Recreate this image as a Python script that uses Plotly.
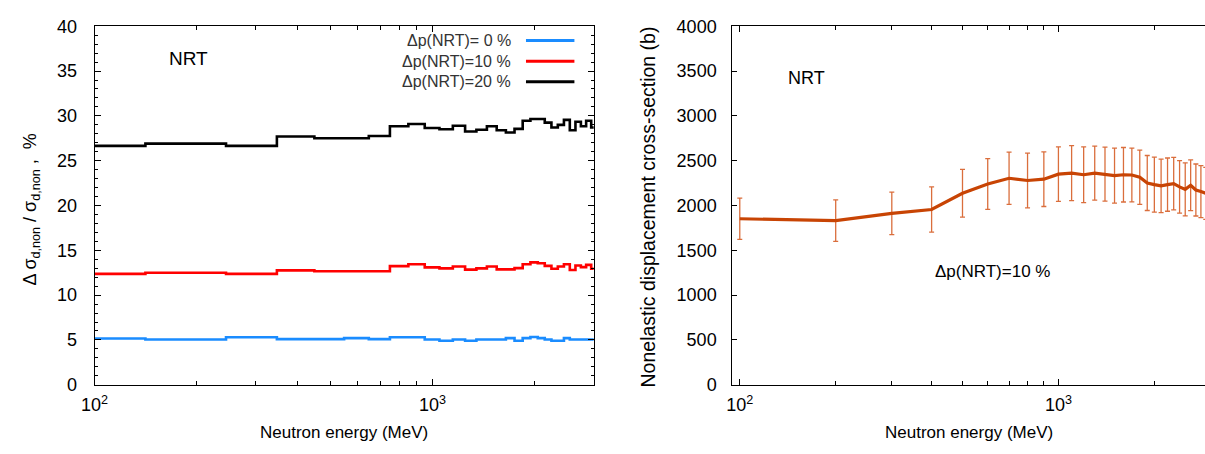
import plotly.graph_objects as go

W, H = 1205, 454

# ---------------- data ----------------
energy = [100, 200, 300, 400, 500, 600, 700, 800, 900, 1000,
          1100, 1200, 1300, 1400, 1500, 1600, 1700, 1800, 1900, 2000,
          2100, 2200, 2300, 2400, 2500, 2600, 2700, 2800, 2900, 3000]

ratio_dp0 = [5.16, 5.05, 5.30, 5.09, 5.09, 5.20, 5.09, 5.30, 5.30, 5.05,
             4.91, 5.05, 4.91, 5.05, 5.05, 5.05, 5.20, 4.91, 5.20, 5.33,
             5.20, 5.05, 4.91, 4.91, 5.20, 5.05, 5.05, 5.05, 5.05, 5.05]

ratio_dp10 = [12.37, 12.50, 12.37, 12.76, 12.66, 12.66, 12.66, 13.23, 13.44, 13.09,
              12.98, 13.19, 12.84, 12.98, 13.19, 12.87, 12.87, 13.01, 13.44, 13.65,
              13.55, 13.26, 12.94, 13.19, 13.44, 12.80, 13.30, 13.12, 13.37, 12.94]

ratio_dp20 = [26.65, 26.90, 26.65, 27.70, 27.50, 27.50, 27.75, 28.85, 29.10, 28.65,
              28.50, 28.90, 28.25, 28.45, 28.85, 28.40, 28.15, 28.55, 29.45, 29.65,
              29.65, 29.25, 28.70, 29.00, 29.55, 28.40, 29.35, 28.85, 29.45, 28.70]

xs_value = [1852, 1831, 1913, 1955, 2137, 2240, 2304, 2279, 2294, 2350,
            2362, 2343, 2361, 2350, 2333, 2343, 2340, 2315, 2251, 2233,
            2219, 2233, 2244, 2208, 2180, 2226, 2173, 2155, 2135, 2120]

xs_err = [230, 232, 237, 252, 267, 284, 292, 305, 305, 305,
          307, 310, 302, 302, 307, 304, 300, 302, 307, 306,
          298, 297, 293, 293, 295, 284, 290, 290, 290, 285]

legend_labels = ["\u0394p(NRT)= 0 %", "\u0394p(NRT)=10 %", "\u0394p(NRT)=20 %"]
series_colors = ["#1a8cff", "#ff0000", "#000000"]

x_major = [100, 1000]
x_major_text = ["10<sup>2</sup>", "10<sup>3</sup>"]
x_minor = [200, 300, 400, 500, 600, 700, 800, 900, 2000, 3000]
left_yticks = [0, 5, 10, 15, 20, 25, 30, 35, 40]
right_yticks = [0, 500, 1000, 1500, 2000, 2500, 3000, 3500, 4000]

FONT = "Arial, Liberation Sans, sans-serif"

# ---------------- figure ----------------
fig = go.Figure()

for vals, name, col in zip([ratio_dp0, ratio_dp10, ratio_dp20], legend_labels, series_colors):
    fig.add_trace(go.Scatter(
        x=energy, y=vals, mode="lines", name=name,
        line=dict(color=col, width=2.6, shape="hvh"),
        xaxis="x", yaxis="y", showlegend=False))

fig.add_trace(go.Scatter(
    x=energy, y=xs_value, mode="lines", name="\u0394p(NRT)=10 %",
    line=dict(color="rgb(200,68,4)", width=3.2),
    error_y=dict(type="data", array=xs_err, visible=True,
                 color="rgb(218,110,60)", thickness=1.3, width=2.5),
    xaxis="x2", yaxis="y2", showlegend=False))

def px2paper_x(px):
    return px / W

def px2paper_y(py):
    return 1 - py / H

yb, yt = px2paper_y(392), px2paper_y(17)

axis_common = dict(
    showline=True, linecolor="black", linewidth=1, showgrid=False, zeroline=False,
    ticks="inside", tickcolor="black",
    tickfont=dict(family=FONT, size=18, color="black"),
)

fig.update_layout(
    width=W, height=H,
    margin=dict(l=0, r=0, t=0, b=0),
    paper_bgcolor="white", plot_bgcolor="white",
    font=dict(family=FONT, color="black"),
    xaxis=dict(
        axis_common, type="log", domain=[px2paper_x(81.5), px2paper_x(587)],
        range=[2, 3.4786], anchor="y", mirror="allticks",
        tickvals=x_major, ticktext=x_major_text, ticklen=6,
        minor=dict(tickvals=x_minor, ticks="inside", ticklen=4, tickcolor="black"),
        ticklabelstandoff=4,
    ),
    yaxis=dict(
        axis_common, domain=[yb, yt], range=[0, 40], anchor="x", mirror="allticks",
        tickvals=left_yticks, ticklen=6,
        minor=dict(dtick=1, ticks="inside", ticklen=3, tickcolor="black"),
        ticklabelstandoff=13,
    ),
    xaxis2=dict(
        axis_common, type="log", domain=[px2paper_x(726.7), 1.0],
        range=[1.9764, 3.46], anchor="y2", mirror="allticks",
        tickvals=x_major, ticktext=x_major_text, ticklen=6,
        minor=dict(tickvals=x_minor, ticks="inside", ticklen=4, tickcolor="black"),
        ticklabelstandoff=4,
    ),
    yaxis2=dict(
        axis_common, domain=[yb, yt], range=[0, 4000], anchor="x2", mirror=False,
        tickvals=right_yticks, ticklen=5,
        ticklabelstandoff=11,
    ),
)

ann = []
# axis titles
ann.append(dict(text="Neutron energy (MeV)", x=px2paper_x(334), y=px2paper_y(442),
                font=dict(size=17)))
ann.append(dict(text="Neutron energy (MeV)", x=px2paper_x(966), y=px2paper_y(442),
                font=dict(size=17)))
ann.append(dict(text="\u0394 \u03c3<sub>d,non</sub> / \u03c3<sub>d,non</sub> ,  %",
                x=px2paper_x(18), y=px2paper_y(209), textangle=-90, font=dict(size=18)))
ann.append(dict(text="Nonelastic displacement cross-section (b)",
                x=px2paper_x(641), y=px2paper_y(206), textangle=-90, font=dict(size=19.5)))
# in-plot labels
ann.append(dict(text="NRT", x=px2paper_x(177), y=px2paper_y(51), font=dict(size=19)))
ann.append(dict(text="NRT", x=px2paper_x(802), y=px2paper_y(71), font=dict(size=18)))
ann.append(dict(text="\u0394p(NRT)=10 %", x=px2paper_x(990), y=px2paper_y(274),
                font=dict(size=17)))
# legend (text right-aligned, sample line on the right)
legend_rows_y = [32, 53.5, 75]
shapes = []
for lab, col, ry in zip(legend_labels, series_colors, legend_rows_y):
    ann.append(dict(text=lab, x=px2paper_x(505), y=px2paper_y(ry), xanchor="right",
                    font=dict(size=16, color="#333333")))
    shapes.append(dict(type="line", xref="paper", yref="paper",
                       x0=px2paper_x(518), x1=px2paper_x(567),
                       y0=px2paper_y(ry), y1=px2paper_y(ry),
                       line=dict(color=col, width=3)))

for a in ann:
    a.setdefault("xref", "paper")
    a.setdefault("yref", "paper")
    a.setdefault("showarrow", False)
    a.setdefault("xanchor", "center")
    a.setdefault("yanchor", "middle")
    a["font"].setdefault("family", FONT)
    a["font"].setdefault("color", "black")

fig.update_layout(annotations=ann, shapes=shapes)

fig.write_html(
    "out.html",
    config={"displayModeBar": False},
    post_script="document.body.style.margin='0';document.body.style.overflow='hidden';",
)
